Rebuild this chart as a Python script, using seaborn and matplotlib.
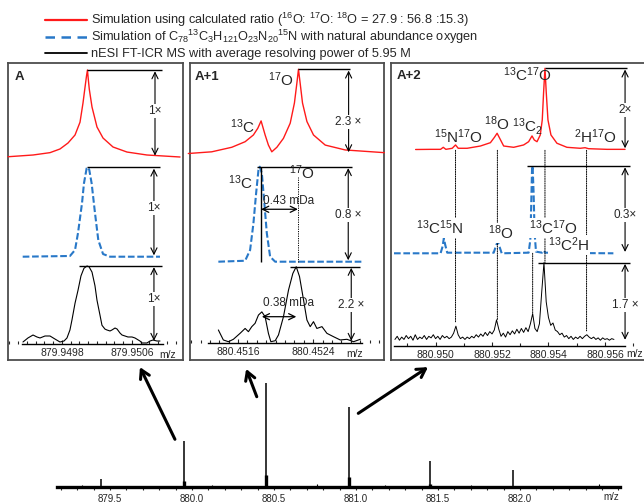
import numpy as np
import matplotlib
matplotlib.use("Agg")
import matplotlib.pyplot as plt
import seaborn as sns
from matplotlib import font_manager
from matplotlib.lines import Line2D
from matplotlib.patches import ConnectionPatch
from matplotlib.ticker import MultipleLocator

# ---- data (x in mDa offset from the panel reference m/z, y normalised) ----
# panel A, ref 879.9498
a_ref = 879.9498
a_calc_mda = [-0.617, -0.331, -0.137, -0.023, 0.069, 0.149, 0.206, 0.240, 0.263, 0.280,
              0.291, 0.300, 0.312, 0.343, 0.400, 0.469, 0.583, 0.743, 0.971, 1.349]
a_calc_int = [0.003, 0.023, 0.050, 0.092, 0.161, 0.253, 0.400, 0.620, 0.800, 0.930,
              1.000, 0.900, 0.780, 0.575, 0.345, 0.218, 0.115, 0.057, 0.023, 0.000]
a_sim_mda = [-0.449, 0.091, 0.149, 0.183, 0.229, 0.251, 0.282, 0.297, 0.312, 0.339,
             0.377, 0.415, 0.469, 0.549, 1.120]
a_sim_int = [0, 0.008, 0.075, 0.265, 0.600, 0.820, 0.990, 1.000, 0.970, 0.820,
             0.490, 0.186, 0.030, 0, 0]
a_exp_mda = [-0.446, -0.389, -0.331, -0.286, -0.251, -0.194, -0.137, -0.080, -0.023, 0.023,
             0.057, 0.091, 0.114, 0.149, 0.183, 0.217, 0.251, 0.286, 0.309, 0.343,
             0.377, 0.400, 0.434, 0.457, 0.491, 0.514, 0.549, 0.571, 0.606, 0.629,
             0.663, 0.686, 0.720, 0.754, 0.800, 0.834, 0.891, 0.914, 0.971, 1.006,
             1.040, 1.086, 1.120]
a_exp_int = [0.000, 0.053, 0.092, 0.066, 0.053, 0.079, 0.079, 0.039, 0.000, 0.013,
             0.053, 0.158, 0.290, 0.510, 0.680, 0.870, 0.970, 1.000, 0.990, 0.920,
             0.740, 0.550, 0.355, 0.220, 0.170, 0.158, 0.145, 0.158, 0.184, 0.171,
             0.118, 0.092, 0.079, 0.066, 0.066, 0.053, 0.013, -0.013, -0.013, 0.013,
             0.026, 0.013, 0.013]
a_ticks = [879.9498, 879.9506]

# panel A+1, ref 880.4516
a1_ref = 880.4516
a1_calc_mda = [-0.530, -0.281, -0.067, 0.075, 0.163, 0.210, 0.245, 0.288, 0.323, 0.359,
               0.413, 0.483, 0.555, 0.600, 0.626, 0.643, 0.661, 0.686, 0.733, 0.803,
               0.928, 1.141, 1.557]
a1_calc_int = [0.000, 0.020, 0.074, 0.140, 0.220, 0.300, 0.387, 0.220, 0.100, 0.020,
               0.074, 0.180, 0.360, 0.600, 0.835, 1.000, 0.835, 0.600, 0.380, 0.220,
               0.100, 0.042, 0.010]
a1_sim_mda = [-0.210, 0.075, 0.128, 0.163, 0.192, 0.217, 0.231, 0.253, 0.277, 0.306,
              0.341, 0.395, 1.337]
a1_sim_int = [0, 0.010, 0.123, 0.400, 0.720, 0.965, 1.000, 0.930, 0.650, 0.300,
              0.053, 0, 0]
a1_exp_mda = [-0.210, -0.157, -0.103, -0.050, 0.021, 0.075, 0.110, 0.146, 0.181, 0.217,
              0.253, 0.288, 0.323, 0.349, 0.395, 0.430, 0.483, 0.537, 0.583, 0.619,
              0.654, 0.697, 0.733, 0.768, 0.803, 0.839, 0.893, 0.946, 1.017, 1.088,
              1.159, 1.230, 1.301]
a1_exp_int = [0.160, 0.027, 0.004, 0.036, 0.115, 0.180, 0.137, 0.204, 0.248, 0.358,
              0.400, 0.335, 0.115, 0.004, 0.017, 0.093, 0.335, 0.690, 0.910, 1.000,
              0.870, 0.558, 0.292, 0.204, 0.270, 0.180, 0.204, 0.115, 0.070, 0.027,
              0.036, 0.004, 0.036]
a1_ticks = [880.4516, 880.4524]

# panel A+2, ref 880.950
a2_ref = 880.950
a2_calc_mda = [-0.707, -0.177, 0.177, 0.272, 0.364, 0.590, 0.707, 0.802, 1.120, 1.590,
               1.943, 2.085, 2.180, 2.272, 2.413, 2.767, 3.120, 3.297, 3.417, 3.498,
               3.594, 3.710, 3.780, 3.827, 3.876, 3.922, 3.982, 4.088, 4.300, 4.654,
               5.124, 5.300, 5.417, 6.067, 6.714]
a2_calc_int = [0.000, 0.002, 0.002, 0.027, 0.002, 0.015, 0.056, 0.015, 0.015, 0.043,
               0.084, 0.150, 0.200, 0.138, 0.043, 0.027, 0.056, 0.096, 0.167, 0.117,
               0.096, 0.179, 0.364, 0.700, 1.000, 0.700, 0.364, 0.179, 0.077, 0.027,
               0.015, 0.022, 0.010, 0.002, 0.002]
a2_sim_mda = [-1.473, 0.177, 0.247, 0.293, 0.343, 0.413, 2.060, 2.131, 2.201, 2.272,
              2.343, 3.297, 3.357, 3.382, 3.417, 3.438, 3.474, 3.509, 3.558, 3.770,
              3.827, 3.887, 4.830, 4.947, 5.028, 6.300]
a2_sim_int = [0, 0, 0.077, 0.172, 0.095, 0.007, 0.007, 0.076, 0.134, 0.069,
              0, 0.007, 0.153, 0.458, 0.955, 1.000, 0.687, 0.229, 0.019, 0.007,
              0.030, 0.007, 0.007, 0.026, 0.003, 0]
# measured profile, sampled every 0.08 mDa from -1.44 mDa
a2_exp_start, a2_exp_step = -1.44, 0.08
a2_exp_int = [0.02, 0.06, 0.01, 0.05, 0.02, 0.07, 0.03, 0.06, 0.01, 0.08,
              0.02, 0.05, 0.03, 0.07, 0.02, 0.06, 0.04, 0.08, 0.03, 0.06,
              0.02, 0.07, 0.04, 0.06, 0.03, 0.05, 0.10, 0.19, 0.08, 0.03,
              0.05, 0.02, 0.05, 0.03, 0.06, 0.04, 0.08, 0.05, 0.09, 0.06,
              0.11, 0.07, 0.12, 0.09, 0.14, 0.27, 0.15, 0.06, 0.10, 0.05,
              0.12, 0.08, 0.13, 0.09, 0.15, 0.10, 0.16, 0.11, 0.17, 0.12,
              0.22, 0.35, 0.16, 0.12, 0.22, 0.62, 1.00, 0.50, 0.30, 0.20,
              0.23, 0.14, 0.12, 0.08, 0.10, 0.05, 0.07, 0.03, 0.06, 0.02,
              0.05, 0.03, 0.06, 0.03, 0.06, 0.08, 0.05, 0.03, 0.05, 0.02,
              0.04, 0.01, 0.04, 0.02, 0.03, 0.01, 0.03, 0.02]
a2_ticks = [880.950, 880.952, 880.954, 880.956]
# assigned peak positions (mDa) and height where the dotted guide meets the measured trace
a2_guides_mda = [0.707, 2.19, 3.876, 5.35]
a2_guides_exp = [0.24, 0.27, 1.0, 0.13]

# full spectrum
full_mz = [879.445, 879.950, 880.452, 880.955, 881.452, 881.958]
full_int = [0.076, 0.44, 1.0, 0.77, 0.254, 0.165]
foot_mz = [879.950, 880.452, 880.955, 881.452]
foot_int = [0.06, 0.12, 0.10, 0.03]
spike_mz = [879.33, 879.62, 880.12, 880.76, 881.18, 881.70, 882.18, 882.48]
spike_int = [0.02, 0.015, 0.02, 0.035, 0.02, 0.02, 0.015, 0.03]
full_ticks = [879.5, 880.0, 880.5, 881.0, 881.5, 882.0]

legend_labels = [
    r"Simulation using calculated ratio ($^{16}$O: $^{17}$O: $^{18}$O = 27.9 : 56.8 :15.3)",
    r"Simulation of C$_{78}$$^{13}$C$_{3}$H$_{121}$O$_{23}$N$_{20}$$^{15}$N with natural abundance oxygen",
    "nESI FT-ICR MS with average resolving power of 5.95 M",
]

RED = "#ff1a1a"
BLUE = "#2878c8"

sns.set_style("white")
names = {f.name for f in font_manager.fontManager.ttflist}
NARROW = "Liberation Sans Narrow" if "Liberation Sans Narrow" in names else "Liberation Sans"
plt.rcParams["font.family"] = ["Liberation Sans", "DejaVu Sans"]
plt.rcParams["mathtext.fontset"] = "custom"
plt.rcParams["mathtext.rm"] = NARROW
plt.rcParams["mathtext.it"] = NARROW + ":italic"
plt.rcParams["mathtext.bf"] = NARROW + ":bold"

W, H = 644, 503
fig = plt.figure(figsize=(W / 100, H / 100), dpi=100)


def px_axes(x0, y0, x1, y1):
    ax = fig.add_axes([x0 / W, 1 - y1 / H, (x1 - x0) / W, (y1 - y0) / H])
    ax.patch.set_alpha(0)
    return ax


def ftext(x, y, s, **kw):
    kw.setdefault("ha", "center")
    kw.setdefault("va", "center")
    return fig.text(x / W, 1 - y / H, s, **kw)


def trace(x0, x1, top, base, xlim, xs, ys, color, lw, ls="-", spine=None):
    bottom = base if spine is None else spine
    ax = px_axes(x0, top, x1, bottom)
    sns.lineplot(x=xs, y=ys, ax=ax, color=color, lw=lw, linestyle=ls,
                 estimator=None, sort=False, legend=False)
    ax.lines[-1].set_clip_on(False)
    ax.set_xlim(xlim)
    ax.set_ylim(-(bottom - base) / (base - top), 1)
    ax.set_xlabel("")
    ax.set_ylabel("")
    ax.set_xticks([])
    ax.set_yticks([])
    for s in ax.spines.values():
        s.set_visible(False)
    return ax


def axis_line(ax, lo, hi, ticks, ref, fmt, minor):
    ax.spines["bottom"].set_visible(True)
    ax.spines["bottom"].set_color("k")
    ax.spines["bottom"].set_linewidth(1.0)
    ax.spines["bottom"].set_bounds(lo, hi)
    pos = [(t - ref) * 1000 for t in ticks]
    ax.set_xticks(pos, [fmt.format(t) for t in ticks])
    ax.xaxis.set_minor_locator(MultipleLocator(minor))
    ax.tick_params(axis="x", which="both", direction="in", length=3, width=0.8,
                   labelsize=7.5, pad=3, bottom=True)
    ax.tick_params(axis="x", which="minor", length=2)


def scale_bar(ax, x0, xa, x1, label, ly):
    ax.hlines(1, x0, x1, color="k", lw=1.0, clip_on=False)
    ax.annotate("", xy=(xa, 0.985), xytext=(xa, 0.015), annotation_clip=False,
                arrowprops=dict(arrowstyle="<->,head_length=0.45,head_width=0.22",
                                lw=0.8, color="k", shrinkA=0, shrinkB=0))
    ax.text(xa, ly, label, ha="center", va="center", fontsize=8.5, zorder=5,
            bbox=dict(fc="white", ec="none", pad=0.6))


def dotted(ax_a, ya, ax_b, yb, x):
    fig.add_artist(ConnectionPatch(xyA=(x, ya), coordsA=ax_a.transData,
                                   xyB=(x, yb), coordsB=ax_b.transData,
                                   color="k", lw=0.7, ls=(0, (1.2, 1.2))))


# panel frames
for x0, x1 in [(8, 183), (190, 384.3), (390.7, 660)]:
    box = px_axes(x0, 63, x1, 360)
    box.set_xticks([])
    box.set_yticks([])
    for s in box.spines.values():
        s.set_color("#4d4d4d")
        s.set_linewidth(1.3)
boxes = fig.axes[:]

DASH = (0, (3.2, 1.3))

# ---- panel A ----
xa = (-0.617, 1.383)
ar = trace(8, 183, 70, 157, xa, a_calc_mda, a_calc_int, RED, 1.0)
ab = trace(8, 183, 167.3, 256.7, xa, a_sim_mda, a_sim_int, BLUE, 1.5, DASH)
ak = trace(8, 183, 266, 342, xa, a_exp_mda, a_exp_int, "k", 0.8, spine=343.5)
axis_line(ak, -0.457, 1.154, a_ticks, a_ref, "{:.4f}", 0.1)
scale_bar(ar, 0.286, 1.063, 1.143, "1\u00d7", 0.53)
scale_bar(ab, 0.282, 1.051, 1.12, "1\u00d7", 0.545)
scale_bar(ak, 0.194, 1.051, 1.139, "1\u00d7", 0.566)
ftext(168, 355, "m/z", fontsize=7.5)
ftext(15, 77.5, "A", ha="left", fontsize=9.5, weight="bold")

# ---- panel A+1 ----
xa1 = (-0.512, 1.557)
a1r = trace(190, 384.3, 69.3, 153.5, xa1, a1_calc_mda, a1_calc_int, RED, 1.0)
a1b = trace(190, 384.3, 166.7, 261.7, xa1, a1_sim_mda, a1_sim_int, BLUE, 1.5, DASH)
a1k = trace(190, 384.3, 266.7, 342, xa1, a1_exp_mda, a1_exp_int, "k", 0.8, spine=343)
axis_line(a1k, -0.32, 1.323, a1_ticks, a1_ref, "{:.4f}", 0.1)
scale_bar(a1r, 0.64, 1.177, 1.195, "2.3 \u00d7", 0.374)
scale_bar(a1b, 0.203, 1.173, 1.216, "0.8 \u00d7", 0.49)
scale_bar(a1k, 0.555, 1.205, 1.301, "2.2 \u00d7", 0.49)
c13 = a1_sim_mda[int(np.argmax(a1_sim_int))] + 0.014
o17 = a1_calc_mda[int(np.argmax(a1_calc_int))] - 0.006
a1b.vlines(c13, 0, 1, color="k", lw=1.0, clip_on=False)
a1b.vlines(o17, 0, 0.895, color="k", lw=0.7, linestyles=(0, (1.2, 1.2)), clip_on=False)
for ax, y, x0, x1 in [(a1b, 0.552, c13, o17), (a1k, 0.336, 0.253, 0.62)]:
    ax.annotate("", xy=(x1, y), xytext=(x0, y), annotation_clip=False,
                arrowprops=dict(arrowstyle="<->,head_length=0.45,head_width=0.22",
                                lw=0.9, color="k", shrinkA=0, shrinkB=0))
ftext(288.5, 201, "0.43 mDa", fontsize=8.5)
ftext(288.3, 303, "0.38 mDa", fontsize=8.5)
ftext(355, 354, "m/z", fontsize=7.5)
ftext(195, 77, "A+1", ha="left", fontsize=9.5, weight="bold")

# ---- panel A+2 ----
xa2 = (-1.59, 7.385)
a2_exp_mda = a2_exp_start + a2_exp_step * np.arange(len(a2_exp_int))
a2r = trace(390.7, 644, 68.3, 149.5, xa2, a2_calc_mda, a2_calc_int, RED, 1.0)
a2b = trace(390.7, 644, 166, 253.3, xa2, a2_sim_mda, a2_sim_int, BLUE, 1.5, DASH)
a2k = trace(390.7, 644, 262.7, 341, xa2, a2_exp_mda, a2_exp_int, "k", 0.7, spine=346)
axis_line(a2k, -1.484, 6.714, a2_ticks, a2_ref, "{:.3f}", 1.0)
scale_bar(a2r, 3.887, 6.714, 6.784, "2\u00d7", 0.486)
scale_bar(a2b, 3.25, 6.714, 6.89, "0.3\u00d7", 0.44)
scale_bar(a2k, 3.64, 6.714, 6.89, "1.7 \u00d7", 0.46)
for x, yk in zip(a2_guides_mda, a2_guides_exp):
    dotted(a2r, -0.01, a2k, yk, x)
dotted(a2b, 0.0, a2k, 0.35, 3.44)
ftext(634.7, 354, "m/z", fontsize=7.5)
ftext(397, 76, "A+2", ha="left", fontsize=9.5, weight="bold")

# isotope labels
iso = dict(family=[NARROW, "DejaVu Sans"], fontsize=11)
for s, x, y in [(r"$^{17}$O", 281, 80), (r"$^{13}$C", 242.5, 127),
                (r"$^{13}$C", 240, 183), (r"$^{17}$O", 302, 173),
                (r"$^{13}$C$^{17}$O", 527, 75), (r"$^{18}$O", 497, 124),
                (r"$^{13}$C$_2$", 527, 126), (r"$^{15}$N$^{17}$O", 458, 137),
                (r"$^{2}$H$^{17}$O", 596, 137)]:
    ftext(x, y, s, **iso)
for s, x, y in [(r"$^{13}$C$^{15}$N", 440, 228), (r"$^{18}$O", 501, 233),
                (r"$^{13}$C$^{17}$O", 553, 228), (r"$^{13}$C$^{2}$H", 569, 245)]:
    t = ftext(x, y, s, **iso)
    t.set_bbox(dict(fc="white", ec="none", pad=0.3))

# ---- full spectrum ----
axb = px_axes(56.7, 382.7, 620, 487.3)
axb.vlines(full_mz, 0, full_int, color="k", lw=1.1)
axb.vlines(foot_mz, 0, foot_int, color="k", lw=2.4)
axb.vlines(spike_mz, 0, spike_int, color="k", lw=0.8)
axb.set_xlim(879.175, 882.61)
axb.set_ylim(0, 1)
axb.set_yticks([])
for k in ["left", "right", "top"]:
    axb.spines[k].set_visible(False)
axb.spines["bottom"].set_linewidth(2.4)
axb.spines["bottom"].set_color("k")
axb.set_xticks(full_ticks, [f"{t:.1f}" for t in full_ticks])
axb.xaxis.set_minor_locator(MultipleLocator(0.1))
axb.tick_params(axis="x", which="both", direction="out", length=2.5, width=0.8,
                labelsize=7, pad=2, bottom=True)
ftext(611.7, 497, "m/z", fontsize=7)

# zoom arrows from the full spectrum to the panels
for (mz, h), box, (fx, fy) in [((879.896, 0.459), boxes[0], (0.754, -0.024)),
                               ((880.395, 0.866), boxes[1], (0.289, -0.03)),
                               ((881.014, 0.707), boxes[2], (0.1385, -0.024))]:
    axb.annotate("", xy=(fx, fy), xycoords=box.transAxes, xytext=(mz, h),
                 textcoords="data", annotation_clip=False,
                 arrowprops=dict(arrowstyle="->,head_length=0.6,head_width=0.35",
                                 lw=2.2, color="k", shrinkA=0, shrinkB=0))

# legend, one row per entry so the rows sit at even spacing
handles = [Line2D([], [], color=RED, lw=1.6),
           Line2D([], [], color=BLUE, lw=1.8, ls=(0, (3.8, 2.6))),
           Line2D([], [], color="k", lw=1.3)]
for h, lab, y in zip(handles, legend_labels, [20, 37, 54]):
    fig.legend([h], [lab], loc="center left",
               bbox_to_anchor=(45 / W, 1 - y / H), frameon=False,
               borderpad=0, borderaxespad=0, handlelength=3.3,
               handletextpad=0.3,
               prop={"family": [NARROW, "DejaVu Sans"], "size": 9.2})

fig.savefig("out.png", dpi=100)
